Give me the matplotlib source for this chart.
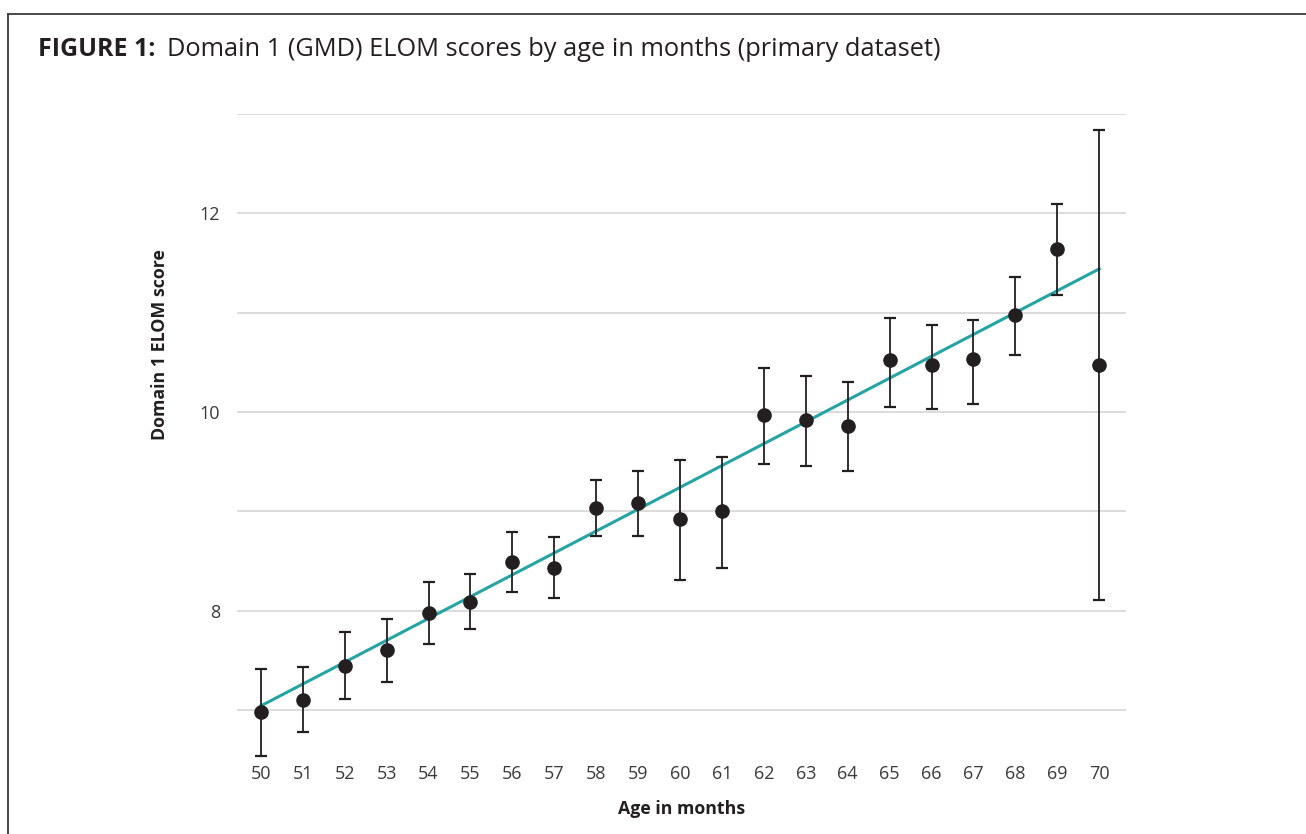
import matplotlib
matplotlib.use("Agg")
import matplotlib.pyplot as plt
from matplotlib.lines import Line2D

plt.rcParams['font.family'] = ['Open Sans', 'DejaVu Sans']

ages = [50, 51, 52, 53, 54, 55, 56, 57, 58, 59, 60, 61, 62, 63, 64, 65, 66, 67, 68, 69, 70]
means = [6.98, 7.10, 7.44, 7.60, 7.98, 8.09, 8.49, 8.43, 9.03, 9.08, 8.92, 9.00,
         9.97, 9.92, 9.86, 10.52, 10.47, 10.53, 10.98, 11.64, 10.47]
upper = [7.41, 7.43, 7.78, 7.91, 8.29, 8.37, 8.79, 8.74, 9.31, 9.41, 9.52, 9.55,
         10.44, 10.36, 10.30, 10.95, 10.88, 10.93, 11.36, 12.09, 12.84]
lower = [6.54, 6.78, 7.11, 7.28, 7.66, 7.81, 8.19, 8.13, 8.75, 8.75, 8.31, 8.43,
         9.48, 9.46, 9.41, 10.05, 10.03, 10.08, 10.57, 11.18, 8.11]
trend_x = [50, 70]
trend_y = [7.04, 11.44]
y_ticks = [8, 10, 12]
y_grid = [7, 8, 9, 10, 11, 12, 13]

W, H = 1306, 834
fig = plt.figure(figsize=(W / 100, H / 100), dpi=100)

# frame lines (top and left)
fig.add_artist(Line2D([8 / W, 1.0], [1 - 13.5 / H, 1 - 13.5 / H], transform=fig.transFigure,
                      color='#3a3a3a', lw=1.3))
fig.add_artist(Line2D([8 / W, 8 / W], [0, 1 - 13.5 / H], transform=fig.transFigure,
                      color='#3a3a3a', lw=1.3))

fig.text(38 / W, 1 - 50 / H, "FIGURE 1:", fontsize=18, fontweight='bold',
         color='#231f20', va='center', ha='left')
fig.text(167 / W, 1 - 50 / H, "Domain 1 (GMD) ELOM scores by age in months (primary dataset)",
         fontsize=18.3, color='#231f20', va='center', ha='left')

left = 237 / W
right = 1126 / W
top = 1 - 114 / H
bottom = 1 - 759.5 / H
ax = fig.add_axes([left, bottom, right - left, top - bottom])

for g in y_grid:
    ax.axhline(g, color='#d9d9d9', lw=1.3, zorder=0)

ax.plot(trend_x, trend_y, color='#26a3a3', lw=2.2, zorder=2)

yerr = [[m - l for m, l in zip(means, lower)], [u - m for m, u in zip(means, upper)]]
ax.errorbar(ages, means, yerr=yerr, fmt='o', color='#231f20', ecolor='#231f20',
            markersize=9.5, elinewidth=1.3, capsize=4.5, capthick=1.6, zorder=3)

ax.set_xlim(49.43, 70.64)
ax.set_ylim(6.5, 13.0)
ax.set_xticks(ages)
ax.set_xticklabels([str(a) for a in ages])
ax.set_yticks(y_ticks)
ax.tick_params(axis='both', length=0, labelsize=13, colors='#3a3a3a')
ax.tick_params(axis='x', pad=4)
ax.tick_params(axis='y', pad=12)
for s in ax.spines.values():
    s.set_visible(False)

ax.set_xlabel("Age in months", fontsize=12.8, fontweight='bold', color='#231f20')
ax.set_ylabel("Domain 1 ELOM score", fontsize=12.8, fontweight='bold', color='#231f20')
ax.xaxis.set_label_coords(0.5, -(809 - 759.5) / 645.5, transform=ax.transAxes)
ax.xaxis.label.set_va('center')
ax.yaxis.set_label_coords(-(237 - 160) / 889, (759.5 - 345) / 645.5, transform=ax.transAxes)
ax.yaxis.label.set_va('center')

fig.savefig("out.png", dpi=100, facecolor='white')
